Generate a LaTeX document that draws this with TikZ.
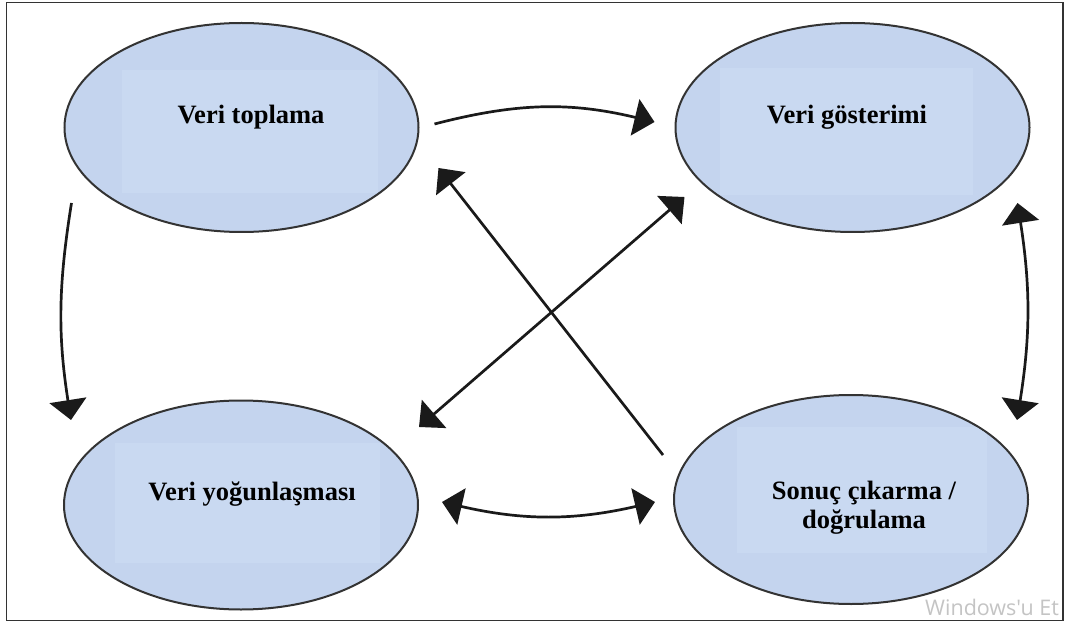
\documentclass[tikz,border=0pt]{standalone}
\usepackage{fontspec}
\setmainfont{Liberation Serif}
\newfontfamily\wmfont{Open Sans}
\usetikzlibrary{arrows.meta,shapes.geometric}
\definecolor{ellfill}{HTML}{C4D4EE}
\definecolor{ellin}{HTML}{C9D9F1}
\definecolor{ellline}{HTML}{333333}
\definecolor{wmgray}{HTML}{C4C4C4}
\definecolor{arrcol}{HTML}{1A1A1A}
\begin{document}
\begin{tikzpicture}[x=1pt,y=1pt,
  ell/.style={ellipse, draw=ellline, line width=2pt, fill=ellfill,
    minimum width=354pt, minimum height=209pt, inner sep=0pt},
  lbl/.style={font=\bfseries\fontsize{26.5}{29}\selectfont, anchor=base,
    align=center, inner sep=0pt},
  conn/.style={line width=2.7pt, draw=arrcol},
  onehead/.style={-{Triangle[length=20pt,width=37pt]}},
  twohead/.style={{Triangle[length=20pt,width=37pt]}-{Triangle[length=20pt,width=37pt]}}
]
\useasboundingbox (0,0) rectangle (1068,-628);
\fill[white] (0,0) rectangle (1068,-628);

% ellipses
\node[ell] (e1) at (241.5,-127.5) {};
\node[ell] (e2) at (852.5,-127.5) {};
\node[ell] (e3) at (241,-505) {};
\node[ell] (e4) at (851,-499.5) {};

% faint lighter panels inside the ellipses
\begin{scope}
  \clip (241.5,-127.5) ellipse [x radius=175pt, y radius=103pt];
  \fill[ellin] (122,-70) rectangle (378,-193);
\end{scope}
\begin{scope}
  \clip (852.5,-127.5) ellipse [x radius=176pt, y radius=103pt];
  \fill[ellin] (720,-68) rectangle (973,-195);
\end{scope}
\begin{scope}
  \clip (241,-505) ellipse [x radius=175pt, y radius=103pt];
  \fill[ellin] (115,-443) rectangle (380,-563);
\end{scope}
\begin{scope}
  \clip (851,-499.5) ellipse [x radius=176pt, y radius=103pt];
  \fill[ellin] (737,-427) rectangle (987,-553);
\end{scope}

% labels
\node[lbl] (t1) at (251,-124) {Veri toplama};
\node[lbl] (t2) at (847,-124) {Veri gösterimi};
\node[lbl] (t3) at (252,-500) {Veri yoğunlaşması};
\node[lbl] (t4) at (864,-528) {Sonuç çıkarma /\\doğrulama};

% connectors
\draw[conn,onehead] ([shift={(15,3.5)}]e1.east) to[bend left=14] ([shift={(-20,5.5)}]e2.west);
\draw[conn,onehead] ([shift={(8,-75.5)}]e1.west) to[bend right=9] ([shift={(8,85)}]e3.west);
\draw[conn,twohead] ([shift={(-13,-75.5)}]e2.east) to[bend left=9] ([shift={(-12,79.5)}]e4.east);
\draw[conn,twohead] ([shift={(23,3)}]e3.east) to[bend right=13] ([shift={(-18,-2.5)}]e4.west);
\draw[conn,twohead] ([shift={(0,78)}]e3.east) -- ([shift={(10,-69.5)}]e2.west);
\draw[conn,onehead] ([shift={(-10,44.5)}]e4.west) -- ([shift={(19,-40.5)}]e1.east);

% watermark, clipped by the frame
\begin{scope}
  \clip (6.5,-2.5) rectangle (1062,-620);
  \node[anchor=base west, inner sep=0pt, text=wmgray,
        font=\wmfont\fontsize{21.5}{21.5}\selectfont] (wm) at (925,-615) {Windows'u Et};
\end{scope}

% frame
\draw[line width=1.8pt, draw=black!80] (6.5,-2.5) rectangle (1063,-620.5);
\end{tikzpicture}
\end{document}
